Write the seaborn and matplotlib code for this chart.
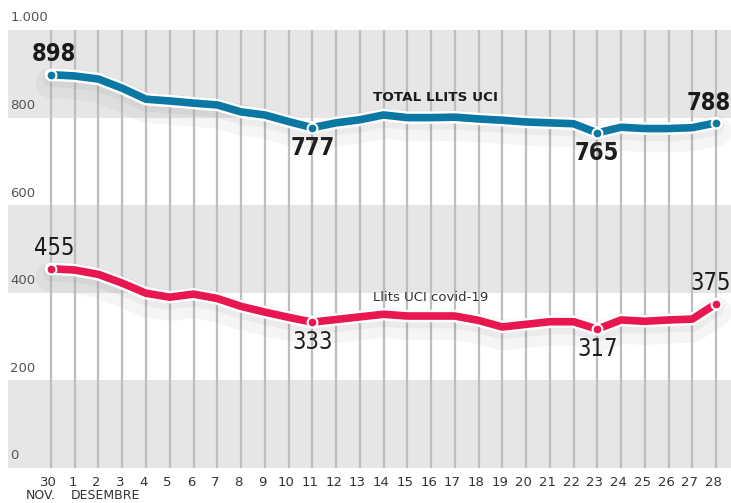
import matplotlib
matplotlib.use('Agg')
import matplotlib.pyplot as plt
import matplotlib.patheffects as pe
import matplotlib.transforms as mtransforms
import seaborn as sns
import pandas as pd

# dades
dies = ['30', '1', '2', '3', '4', '5', '6', '7', '8', '9', '10', '11', '12', '13', '14',
        '15', '16', '17', '18', '19', '20', '21', '22', '23', '24', '25', '26', '27', '28']
total_uci = [898, 895, 888, 867, 842, 838, 833, 829, 813, 806, 791, 777, 788, 795, 806,
             800, 800, 801, 797, 794, 790, 788, 786, 765, 778, 775, 775, 777, 788]
covid_uci = [455, 452, 442, 422, 399, 390, 397, 387, 369, 356, 344, 333, 339, 345, 351,
             347, 347, 347, 337, 322, 328, 334, 334, 317, 338, 335, 338, 340, 375]
y_ticks = [0, 200, 400, 600, 800, 1000]
y_labels = ['0', '200', '400', '600', '800', '1.000']

df = pd.DataFrame({'idx': range(len(dies)), 'total': total_uci, 'covid': covid_uci})

sns.set_style('white')
plt.rcParams['font.family'] = ['DejaVu Sans']

fig = plt.figure(figsize=(7.31, 5.03), dpi=100)
ax = fig.add_axes([8 / 731, 35 / 503, 723 / 731, 438 / 503])
ax.set_xlim(-1.81, 28.63)
ax.set_ylim(0, 1000)
ax.axis('off')

# franges grises
for lo in [0, 400, 800]:
    ax.axhspan(lo, lo + 200, color='#e6e6e6', zorder=0, lw=0)

# línies verticals
for i in df['idx']:
    ax.axvline(i, color='#bdbdc3', lw=1.6, zorder=1)

# etiquetes eix y
off = mtransforms.offset_copy(ax.transData, fig=fig, x=0, y=4, units='points')
for v, lab in zip(y_ticks, y_labels):
    ax.text(-1.72, v, lab, transform=off, ha='left', va='bottom',
            fontsize=9.5, color='#555555')

# etiquetes eix x
for i, d in enumerate(dies):
    ax.text(i - 0.1, -32, d, ha='center', va='center', fontsize=9.5, color='#333333', clip_on=False)
ax.text(-0.42, -62, 'NOV.', ha='center', va='center', fontsize=9, color='#333333', clip_on=False)
ax.text(0.82, -62, 'DESEMBRE', ha='left', va='center', fontsize=9, color='#333333', clip_on=False)

fx = [pe.SimpleLineShadow(offset=(0, -6), shadow_color='#777777', alpha=0.07, linewidth=22),
      pe.SimpleLineShadow(offset=(0, -3), shadow_color='#777777', alpha=0.08, linewidth=12),
      pe.Stroke(linewidth=9, foreground='white'), pe.Normal()]

sns.lineplot(data=df, x='idx', y='total', ax=ax, color='#0a78a3', lw=5.5,
             path_effects=fx, zorder=5, legend=False)
sns.lineplot(data=df, x='idx', y='covid', ax=ax, color='#e8174f', lw=5.5,
             path_effects=fx, zorder=5, legend=False)

# punts destacats
marcats = [0, 11, 23, 28]
for serie, col in [('total', '#0a78a3'), ('covid', '#e8174f')]:
    sub = df.iloc[marcats]
    ax.scatter(sub['idx'], sub[serie], s=50, color=col, edgecolor='white',
               linewidth=1.5, zorder=7)

num_font = dict(family='DejaVu Sans', fontstretch='condensed',
                color='#1a1a1a', fontsize=17)
for serie, pes in [('total', 'bold'), ('covid', 'normal')]:
    for i in marcats:
        v = df[serie][i]
        up = i in (0, 28)
        dy = 6 if up else -6
        t = mtransforms.offset_copy(ax.transData, fig=fig, x=0.0, y=dy, units='points')
        if i == 28:
            ax.text(28.62, v, str(v), transform=t, ha='right', va='bottom',
                    fontweight=pes, **num_font)
        else:
            ax.text(i + (0.12 if i == 0 else 0), v, str(v), transform=t, ha='center',
                    va='bottom' if up else 'top', fontweight=pes, **num_font)

ax.text(13.56, 847, 'TOTAL LLITS UCI', fontsize=9.7, fontweight='bold', color='#1a1a1a',
        ha='left', va='center')
ax.text(13.56, 390, 'Llits UCI covid-19', fontsize=9.5, color='#333333',
        ha='left', va='center')

fig.savefig('out.png', dpi=100)
